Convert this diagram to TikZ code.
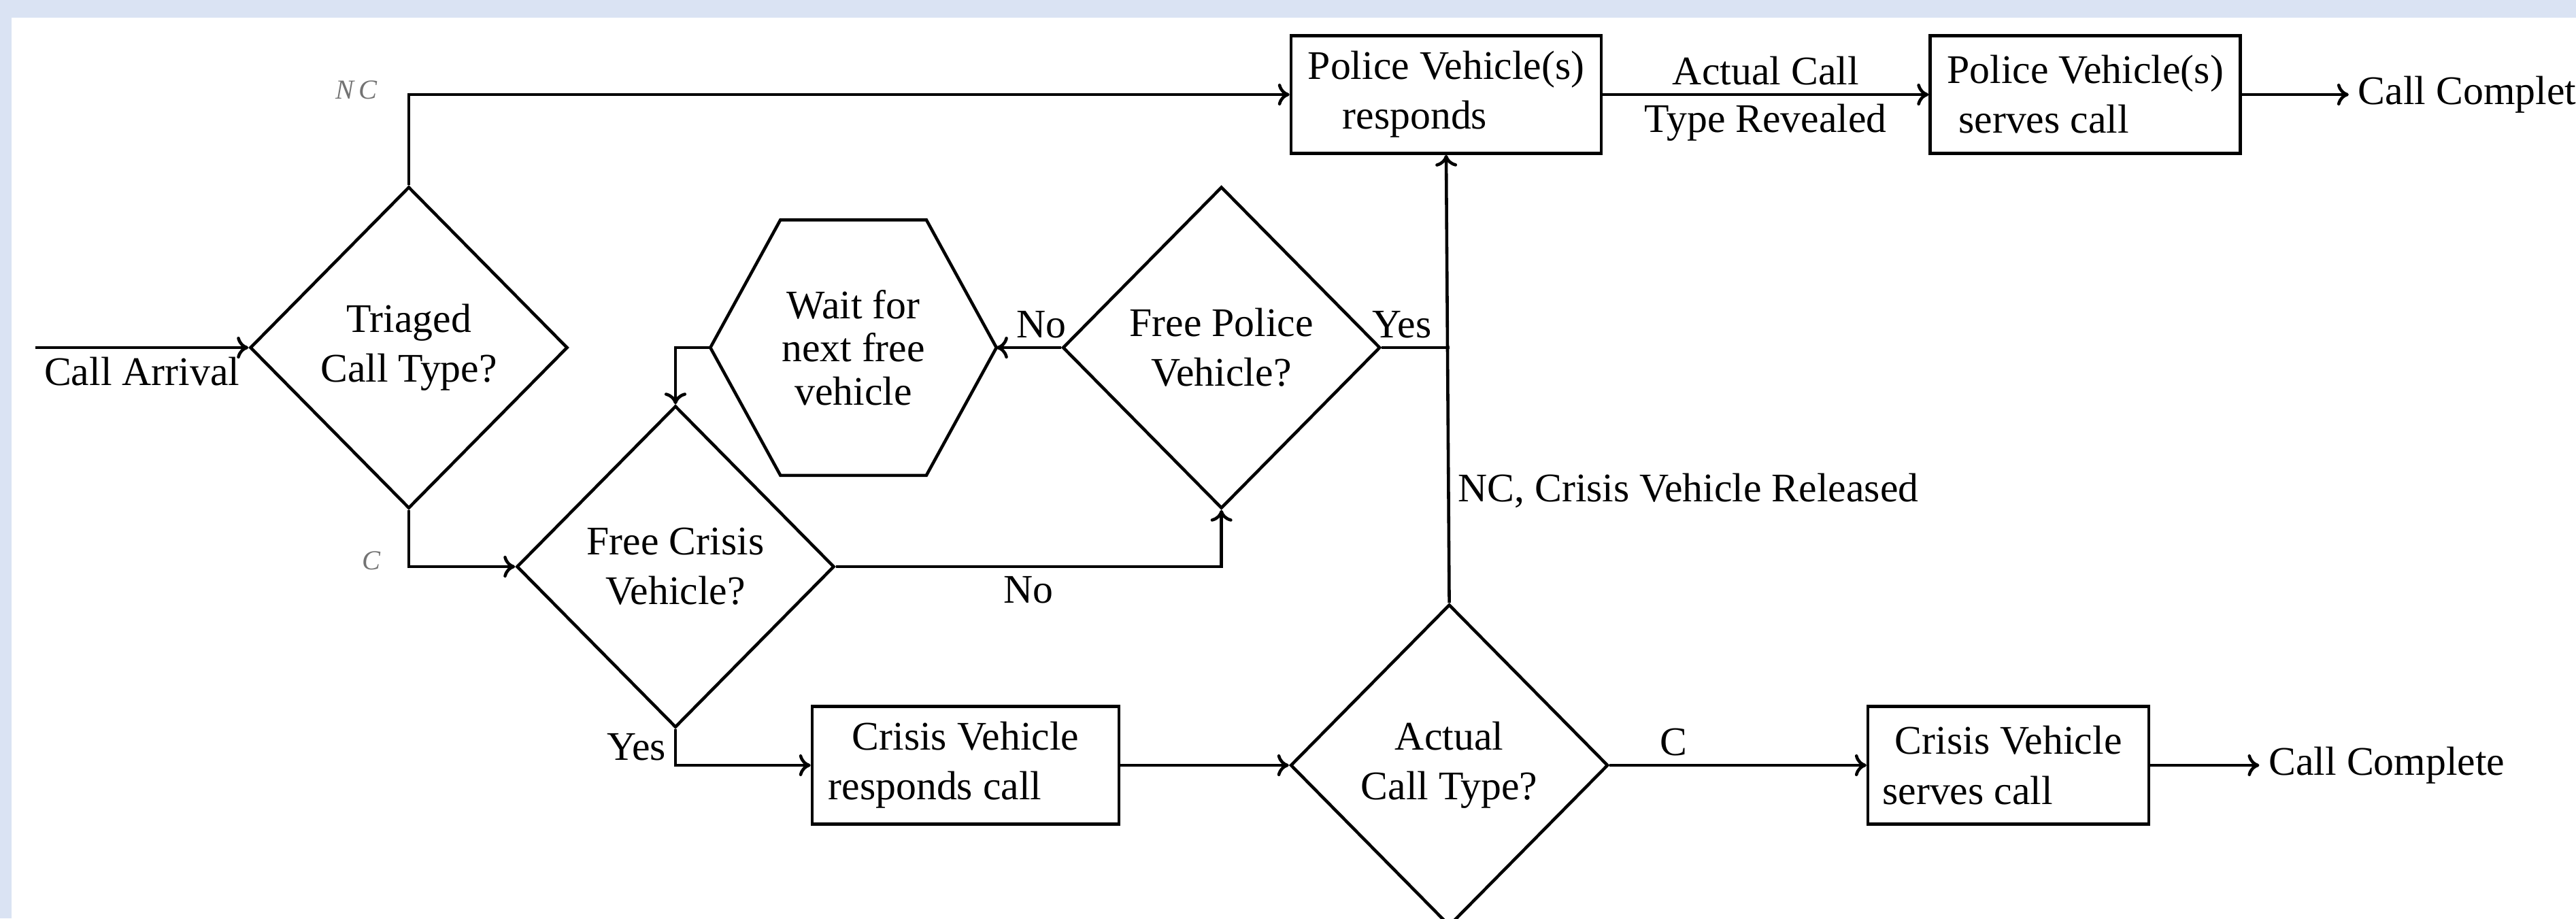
\documentclass[tikz,border=0pt]{standalone}
\usepackage{fontspec}
\setmainfont{Liberation Serif}
\usepackage{tikz}
\usetikzlibrary{positioning,arrows.meta,shapes.geometric,calc}
\definecolor{bgblue}{RGB}{218,227,243}

\begin{document}
\begin{tikzpicture}[
  font=\fontsize{17}{20.8}\selectfont, >={To[length=1.7mm,width=3.2mm]}, line width=1.3pt,
  dec/.style={draw, diamond, aspect=1, inner sep=0pt,
              minimum width=4.67cm, minimum height=4.73cm, align=center},
  pbox/.style={draw, rectangle, inner xsep=1pt, minimum height=1.73cm, align=center},
  waitbox/.style={minimum width=4.16cm, minimum height=3.71cm, align=center,
                  font=\fontsize{17}{18}\selectfont},
  arr/.style={->},
  lbl/.style={font=\fontsize{11.5}{12}\selectfont\itshape, text=black!55},
]
\fill[bgblue] (0,0) rectangle (37.87,-13.5);
\fill[white] (0.17,-0.26) rectangle (37.87,-13.5);
\useasboundingbox (0,0) rectangle (37.87,-13.5);

\coordinate (in) at (0.52,-5.11);
\node[dec] (tri) at (6.01,-5.11) {Triaged\\Call Type?};
\node[waitbox, right=2.075cm of tri] (wait) {Wait for\\next free\\vehicle};
\node[dec, right=0.95cm of wait] (fpv) {Free Police\\Vehicle?};
\node[dec] (fcv) at (9.93,-8.33) {Free Crisis\\Vehicle?};
\node[pbox, minimum width=4.56cm] (pvr) at (21.26,-1.39) {Police Vehicle(s)\\responds\hspace*{0.92cm}};
\node[pbox, minimum width=4.56cm, right=4.79cm of pvr] (pvs) {Police Vehicle(s)\\serves call\hspace*{1.22cm}};
\node[right=1.57cm of pvs] (done1) {Call Complete};
\node[pbox, minimum width=4.51cm] (cvr) at (14.195,-11.25) {Crisis Vehicle\\responds call\hspace*{0.9cm}};
\node[dec, right=2.475cm of cvr] (act) {Actual\\Call Type?};
\node[pbox, minimum width=4.13cm, right=3.775cm of act] (cvs) {Crisis Vehicle\\serves call\hspace*{1.2cm}};
\node[right=1.6cm of cvs] (done2) {Call Complete};

% hexagon outline round the wait node
\draw ($(wait.north west)+(1.03,0)$) -- ($(wait.north east)+(-1.03,0)$) -- (wait.east)
  -- ($(wait.south east)+(-1.03,0)$) -- ($(wait.south west)+(1.03,0)$) -- (wait.west) -- cycle;

\draw[arr] (in) -- node[below] {Call Arrival} (tri.west);
\draw[arr] (tri.north) |- node[pos=0.5, anchor=east, xshift=-0.33cm, yshift=0.07cm, lbl] {N\kern2pt C} (pvr.west);
\draw[arr] (tri.south) |- node[pos=0.5, anchor=east, xshift=-0.28cm, yshift=0.09cm, lbl] {C} (fcv.west);
\draw[arr] (fcv.east) -| node[pos=0.25, below] {No} (fpv.south);
\draw[arr] (fpv.west) -- node[pos=0.3, above] {No} (wait.east);
\draw[arr] (wait.west) -| (fcv.north);
\coordinate (join) at (act.north |- fpv.east);
\draw (fpv.east) -- node[pos=0.3, above] {Yes} (join);
\draw[arr] (act.north) -- node[pos=0.25, right] {NC, Crisis Vehicle Released} (pvr.south);
\draw[arr] (pvr) -- node[above] {Actual Call} node[below] {Type Revealed} (pvs);
\draw[arr] (pvs) -- (done1);
\draw[arr] (fcv.south) |- node[pos=0.25, left] {Yes} (cvr.west);
\draw[arr] (cvr) -- (act);
\draw[arr] (act) -- node[pos=0.25, above] {C} (cvs);
\draw[arr] (cvs) -- (done2);
\end{tikzpicture}
\end{document}
